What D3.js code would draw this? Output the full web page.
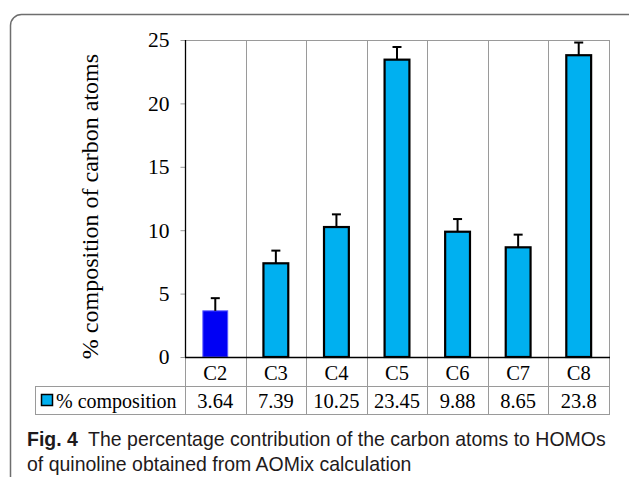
<!DOCTYPE html>
<html>
<head>
<meta charset="utf-8">
<script src="https://cdn.jsdelivr.net/npm/d3@7"></script>
<style>
  html, body { margin: 0; padding: 0; background: #fff; }
  svg { display: block; }
</style>
</head>
<body>
<svg id="chart" width="629" height="477"></svg>
<script>
// Carbon atom contributions to the HOMO of quinoline
const categories = ["C2", "C3", "C4", "C5", "C6", "C7", "C8"];
const composition = [3.64, 7.39, 10.25, 23.45, 9.88, 8.65, 23.8];
const errorBars = [1, 1, 1, 1, 1, 1, 1];
const yTicks = [0, 5, 10, 15, 20, 25];
const seriesName = "% composition";
const yTitle = "% composition of carbon atoms";
const captionLead = "Fig. 4";
const captionLines = [
  "The percentage contribution of the carbon atoms to HOMOs",
  "of quinoline obtained from AOMix calculation"
];

const svg = d3.select("#chart");
const serif = "'Liberation Serif', 'Times New Roman', serif";
const lightBlue = "#00b0f0";
const gridGray = "#9a9a9a";

// outer rounded frame
svg.append("rect")
  .attr("x", 10.5).attr("y", 14.5)
  .attr("width", 628).attr("height", 500)
  .attr("rx", 11).attr("ry", 11)
  .attr("fill", "none").attr("stroke", "#6e6e6e").attr("stroke-width", 1.5);

const plot = { left: 185, right: 609, top: 40, bottom: 357 };
const table = { left: 35, row1: 386, row2: 414 };

const x = d3.scaleBand().domain(categories).range([plot.left, plot.right]).padding(0);
const y = d3.scaleLinear().domain([0, 25]).range([plot.bottom, plot.top]);
const barW = x.bandwidth() * 0.41;

// plot border (top) and category separators
svg.append("line")
  .attr("x1", plot.left).attr("x2", plot.right)
  .attr("y1", plot.top + 0.5).attr("y2", plot.top + 0.5)
  .attr("stroke", gridGray).attr("stroke-width", 1);

const boundaries = categories.map(c => x(c)).concat([plot.right]);
svg.append("g").selectAll("line")
  .data(boundaries.slice(1))
  .join("line")
  .attr("x1", d => Math.round(d) + 0.5).attr("x2", d => Math.round(d) + 0.5)
  .attr("y1", plot.top).attr("y2", table.row2)
  .attr("stroke", gridGray).attr("stroke-width", 1);

// data table under the axis
svg.append("line")
  .attr("x1", plot.left + 0.5).attr("x2", plot.left + 0.5)
  .attr("y1", plot.bottom).attr("y2", table.row2)
  .attr("stroke", gridGray).attr("stroke-width", 1);
svg.append("line")
  .attr("x1", table.left).attr("x2", plot.right)
  .attr("y1", table.row1 + 0.5).attr("y2", table.row1 + 0.5)
  .attr("stroke", gridGray).attr("stroke-width", 1);
svg.append("line")
  .attr("x1", table.left).attr("x2", plot.right + 1)
  .attr("y1", table.row2 + 0.5).attr("y2", table.row2 + 0.5)
  .attr("stroke", gridGray).attr("stroke-width", 1);
svg.append("line")
  .attr("x1", table.left + 0.5).attr("x2", table.left + 0.5)
  .attr("y1", table.row1).attr("y2", table.row2)
  .attr("stroke", gridGray).attr("stroke-width", 1);

// category labels
svg.append("g").selectAll("text")
  .data(categories)
  .join("text")
  .attr("x", d => x(d) + x.bandwidth() / 2)
  .attr("y", 380)
  .attr("text-anchor", "middle")
  .attr("font-family", serif).attr("font-size", 20.5).attr("fill", "#000")
  .text(d => d);

// value row
svg.append("g").selectAll("text")
  .data(composition)
  .join("text")
  .attr("x", (d, i) => x(categories[i]) + x.bandwidth() / 2)
  .attr("y", 408)
  .attr("text-anchor", "middle")
  .attr("font-family", serif).attr("font-size", 20.5).attr("fill", "#000")
  .text(d => d);

// legend key in the table
svg.append("rect")
  .attr("x", 41.5).attr("y", 394.5).attr("width", 11).attr("height", 11)
  .attr("fill", lightBlue).attr("stroke", "#000").attr("stroke-width", 1.5);
svg.append("text")
  .attr("x", 56).attr("y", 408)
  .attr("font-family", serif).attr("font-size", 20).attr("fill", "#000")
  .text(seriesName);

// y axis
const yAxis = d3.axisLeft(y).tickValues(yTicks).tickSize(5).tickPadding(11).tickFormat(d3.format("d"));
const gy = svg.append("g").attr("transform", `translate(${plot.left + 0.5},0)`).call(yAxis);
gy.select(".domain").remove();
gy.selectAll(".tick line").attr("stroke", gridGray);
gy.selectAll(".tick text")
  .attr("font-family", serif).attr("font-size", 21.5).attr("fill", "#000");

svg.append("line")
  .attr("x1", plot.left + 0.5).attr("x2", plot.left + 0.5)
  .attr("y1", plot.top).attr("y2", plot.bottom)
  .attr("stroke", "#000").attr("stroke-width", 1.3);

svg.append("text")
  .attr("transform", `translate(98,206.5) rotate(-90)`)
  .attr("text-anchor", "middle")
  .attr("font-family", serif).attr("font-size", 24).attr("fill", "#000")
  .text(yTitle);

// bars
const bars = categories.map((c, i) => ({ c, v: composition[i], e: errorBars[i], first: i === 0 }));

svg.append("g").selectAll("rect")
  .data(bars)
  .join("rect")
  .attr("x", d => x(d.c) + (x.bandwidth() - barW) / 2)
  .attr("y", d => y(d.v))
  .attr("width", barW)
  .attr("height", d => y(0) - y(d.v))
  .attr("fill", d => d.first ? "#0000f5" : lightBlue)
  .attr("stroke", d => d.first ? "#5a5aff" : "#000")
  .attr("stroke-width", d => d.first ? 1 : 2.2);

// error bars (upper only)
const eb = svg.append("g").attr("stroke", "#000").attr("stroke-width", 2);
eb.selectAll("line.stem")
  .data(bars)
  .join("line")
  .attr("class", "stem")
  .attr("x1", d => x(d.c) + x.bandwidth() / 2)
  .attr("x2", d => x(d.c) + x.bandwidth() / 2)
  .attr("y1", d => y(d.v))
  .attr("y2", d => y(d.v + d.e));
eb.selectAll("line.cap")
  .data(bars)
  .join("line")
  .attr("class", "cap")
  .attr("x1", d => x(d.c) + x.bandwidth() / 2 - 4.5)
  .attr("x2", d => x(d.c) + x.bandwidth() / 2 + 4.5)
  .attr("y1", d => y(d.v + d.e))
  .attr("y2", d => y(d.v + d.e));

// zero line
svg.append("line")
  .attr("x1", plot.left).attr("x2", plot.right + 1)
  .attr("y1", plot.bottom + 0.5).attr("y2", plot.bottom + 0.5)
  .attr("stroke", "#000").attr("stroke-width", 1.5);

// caption, compressed horizontally to the narrow caption face width
const sans = "'Liberation Sans', Arial, sans-serif";
const capX = 27, capWidth = 579;
const capG = svg.append("g");
const cap1 = capG.append("text")
  .attr("x", 0).attr("y", 446)
  .attr("font-family", sans).attr("font-size", 21).attr("fill", "#1e1a1b");
cap1.append("tspan").attr("font-weight", "bold").text(captionLead);
cap1.append("tspan").attr("dx", 11).text(captionLines[0]);
capG.append("text")
  .attr("x", 0).attr("y", 471)
  .attr("font-family", sans).attr("font-size", 21).attr("fill", "#1e1a1b")
  .text(captionLines[1]);
const w1 = cap1.node().getBBox().width;
capG.attr("transform", `translate(${capX},0) scale(${capWidth / w1},1)`);
</script>
</body>
</html>
